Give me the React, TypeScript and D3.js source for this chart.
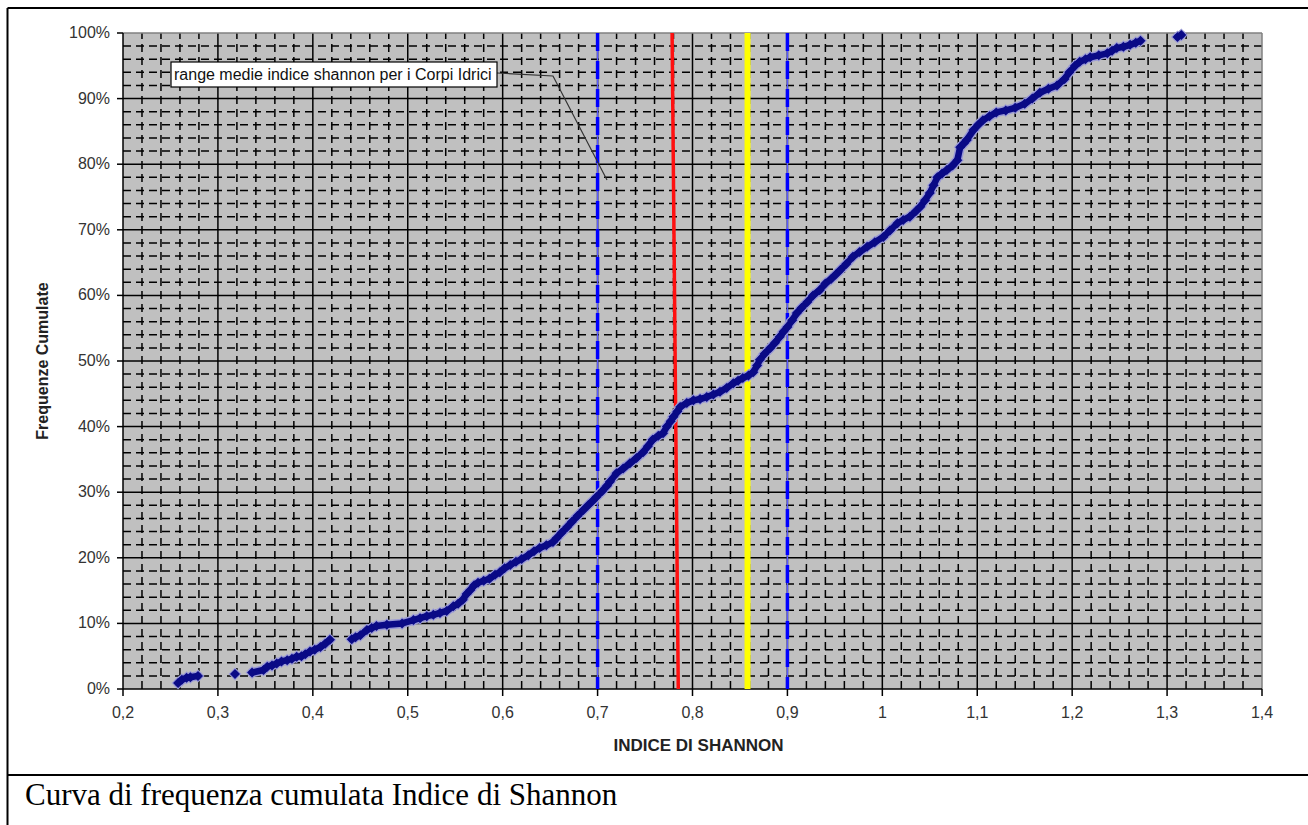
import React from "react";
import * as d3 from "d3";

// Cumulative frequency curve (Shannon index, cumulative %)
const shannonX: number[] = [
  0.258, 0.262, 0.267, 0.271, 0.279, 0.318, 0.336, 0.348, 0.352, 0.357, 0.362, 0.367, 0.373, 0.378, 0.383, 0.388,
  0.392, 0.397, 0.402, 0.408, 0.413, 0.418, 0.441, 0.445, 0.45, 0.457, 0.462, 0.467, 0.478, 0.494, 0.506, 0.513,
  0.52, 0.527, 0.534, 0.541, 0.548, 0.553, 0.558, 0.562, 0.566, 0.57, 0.574, 0.58, 0.586, 0.592, 0.597, 0.602,
  0.608, 0.614, 0.62, 0.627, 0.633, 0.639, 0.646, 0.653, 0.657, 0.662, 0.668, 0.673, 0.679, 0.685, 0.69, 0.695,
  0.699, 0.705, 0.71, 0.713, 0.72, 0.727, 0.734, 0.741, 0.748, 0.753, 0.758, 0.764, 0.769, 0.773, 0.777, 0.78,
  0.784, 0.787, 0.794, 0.801, 0.808, 0.815, 0.822, 0.829, 0.836, 0.843, 0.848, 0.853, 0.859, 0.864, 0.868, 0.871,
  0.876, 0.882, 0.887, 0.892, 0.896, 0.9, 0.905, 0.91, 0.915, 0.921, 0.927, 0.934, 0.94, 0.946, 0.951, 0.956,
  0.962, 0.969, 0.976, 0.984, 0.992, 1.001, 1.008, 1.016, 1.022, 1.029, 1.035, 1.04, 1.045, 1.05, 1.054, 1.058,
  1.063, 1.068, 1.074, 1.079, 1.082, 1.086, 1.089, 1.096, 1.101, 1.106, 1.113, 1.12, 1.13, 1.14, 1.15, 1.158,
  1.166, 1.175, 1.184, 1.192, 1.197, 1.203, 1.208, 1.214, 1.219, 1.228, 1.237, 1.242, 1.247, 1.254, 1.261, 1.267,
  1.272, 1.311, 1.315,
];
const cumulPct: number[] = [
  0.9, 1.4, 1.7, 1.8, 2.0, 2.3, 2.5, 2.9, 3.4, 3.6, 3.9, 4.2, 4.4, 4.6, 4.9, 5.0,
  5.3, 5.7, 6.0, 6.4, 6.9, 7.5, 7.6, 7.9, 8.2, 9.0, 9.3, 9.6, 9.8, 10.0, 10.5, 10.8,
  11.1, 11.3, 11.6, 11.9, 12.6, 13.0, 13.6, 14.5, 15.1, 15.8, 16.2, 16.5, 16.8, 17.4, 17.8, 18.4,
  18.9, 19.4, 19.8, 20.4, 21.0, 21.5, 21.9, 22.4, 23.0, 23.8, 24.7, 25.5, 26.4, 27.3, 28.0, 28.7,
  29.3, 30.2, 31.0, 31.6, 32.9, 33.6, 34.4, 35.2, 36.1, 37.0, 38.0, 38.6, 39.0, 40.0, 40.8, 41.5,
  42.3, 43.0, 43.6, 44.0, 44.2, 44.5, 44.9, 45.3, 45.9, 46.6, 47.0, 47.4, 47.8, 48.3, 49.3, 50.2,
  51.1, 52.0, 52.8, 53.7, 54.5, 55.2, 56.2, 57.3, 58.1, 59.0, 60.0, 60.8, 61.8, 62.5, 63.2, 63.9,
  64.8, 65.9, 66.6, 67.4, 68.1, 68.9, 69.9, 71.0, 71.5, 72.0, 72.8, 73.5, 74.5, 75.6, 76.8, 78.0,
  78.6, 79.1, 79.8, 80.6, 82.6, 83.2, 83.7, 85.2, 86.0, 86.7, 87.3, 87.9, 88.2, 88.6, 89.2, 90.0,
  90.9, 91.5, 92.0, 93.0, 94.0, 95.0, 95.6, 96.0, 96.3, 96.6, 96.9, 97.3, 97.7, 97.9, 98.2, 98.5,
  98.8, 99.4, 99.7,
];

const xTicks: number[] = [0.2, 0.3, 0.4, 0.5, 0.6, 0.7, 0.8, 0.9, 1.0, 1.1, 1.2, 1.3, 1.4];
const yTicks: number[] = [0, 0.1, 0.2, 0.3, 0.4, 0.5, 0.6, 0.7, 0.8, 0.9, 1.0];
const rangeLines: number[] = [0.7, 0.9]; // blue dashed
const redLine: number[][] = [[0.7785, 1.0], [0.785, 0.0]];
const yellowLine: number = 0.858;

const annotationText = "range medie indice shannon per i Corpi Idrici";
const xTitle = "INDICE DI SHANNON";
const yTitle = "Frequenze Cumulate";
const caption = "Curva di frequenza cumulata Indice di Shannon";

const W = 1308;
const H = 825;
const left = 123, right = 1262, top = 33, bottom = 689;

export default function App() {
  const x = d3.scaleLinear().domain([0.2, 1.4]).range([left, right]);
  const y = d3.scaleLinear().domain([0, 1]).range([bottom, top]);

  const minorX = d3.range(0, 61).map((i) => 0.2 + i * 0.02).filter((_, i) => i % 5 !== 0);
  const minorY = d3.range(0, 51).map((i) => i * 0.02).filter((_, i) => i % 5 !== 0);

  const pts = shannonX.map((v, i) => [x(v), y(cumulPct[i] / 100)] as [number, number]);
  // connect consecutive markers that overlap
  const segs: [number, number][][] = [];
  let cur: [number, number][] = [pts[0]];
  for (let i = 1; i < pts.length; i++) {
    const dx = pts[i][0] - pts[i - 1][0];
    const dy = pts[i][1] - pts[i - 1][1];
    if (Math.hypot(dx, dy) < 16) cur.push(pts[i]);
    else {
      segs.push(cur);
      cur = [pts[i]];
    }
  }
  segs.push(cur);
  const line = d3.line<[number, number]>();
  const fmtX = (v: number) => (Math.abs(v - 1) < 1e-9 ? "1" : d3.format(".1f")(v).replace(".", ","));
  const fmtY = (v: number) => `${Math.round(v * 100)}%`;
  const diamond = (cx: number, cy: number, r: number) =>
    `M${cx},${cy - r}L${cx + r},${cy}L${cx},${cy + r}L${cx - r},${cy}Z`;
  const sans = "Arial, 'Liberation Sans', sans-serif";

  return (
    <svg width={W} height={H} style={{ position: "absolute", left: 0, top: 0, background: "#fff" }}>
      {/* outer frame */}
      <line x1={7.5} y1={8} x2={W} y2={8} stroke="#000" strokeWidth={2} />
      <line x1={7.5} y1={8} x2={7.5} y2={H} stroke="#000" strokeWidth={2} />
      <line x1={7.5} y1={775} x2={W} y2={775} stroke="#000" strokeWidth={2} />

      {/* plot area */}
      <rect x={left} y={top} width={right - left} height={bottom - top} fill="#c0c0c0" />
      {minorY.map((v, i) => (
        <line key={"my" + i} x1={left} x2={right} y1={y(v)} y2={y(v)} stroke="#000" strokeWidth={1.5} strokeDasharray="8,5" />
      ))}
      {minorX.map((v, i) => (
        <line key={"mx" + i} x1={x(v)} x2={x(v)} y1={bottom} y2={top} stroke="#000" strokeWidth={1.5} strokeDasharray="8,5" />
      ))}
      {yTicks.slice(1, -1).map((v, i) => (
        <line key={"gy" + i} x1={left} x2={right} y1={y(v)} y2={y(v)} stroke="#000" strokeWidth={1.5} />
      ))}
      {xTicks.slice(1, -1).map((v, i) => (
        <line key={"gx" + i} x1={x(v)} x2={x(v)} y1={top} y2={bottom} stroke="#000" strokeWidth={1.5} />
      ))}
      <line x1={left} x2={right} y1={top} y2={top} stroke="#808080" strokeWidth={1.5} />
      <line x1={right} x2={right} y1={top} y2={bottom} stroke="#808080" strokeWidth={1.5} />

      {/* axes */}
      <line x1={left} x2={left} y1={top} y2={bottom} stroke="#000" strokeWidth={1.5} />
      <line x1={left} x2={right} y1={bottom} y2={bottom} stroke="#000" strokeWidth={1.5} />
      {yTicks.map((v, i) => (
        <g key={"yt" + i}>
          <line x1={left - 6} x2={left} y1={y(v)} y2={y(v)} stroke="#000" strokeWidth={1.5} />
          <text x={left - 13} y={y(v) + 5} textAnchor="end" fontFamily={sans} fontSize={16} fill="#333">
            {fmtY(v)}
          </text>
        </g>
      ))}
      {xTicks.map((v, i) => (
        <g key={"xt" + i}>
          <line x1={x(v)} x2={x(v)} y1={bottom} y2={bottom + 7} stroke="#000" strokeWidth={1.5} />
          <text x={x(v)} y={718} textAnchor="middle" fontFamily={sans} fontSize={16} fill="#333">
            {fmtX(v)}
          </text>
        </g>
      ))}

      {/* reference lines */}
      {rangeLines.map((v, i) => (
        <g key={"rl" + i}>
          <line x1={x(v)} x2={x(v)} y1={top} y2={bottom} stroke="#5c5cff" strokeWidth={1.5} />
          <line x1={x(v)} x2={x(v)} y1={top} y2={bottom} stroke="#0000ff" strokeWidth={3.5} strokeDasharray="18,10" />
        </g>
      ))}
      <line x1={x(redLine[0][0])} y1={y(redLine[0][1])} x2={x(redLine[1][0])} y2={y(redLine[1][1])} stroke="#ff1010" strokeWidth={3.5} />
      <line x1={x(yellowLine)} x2={x(yellowLine)} y1={top} y2={bottom} stroke="#ffff00" strokeWidth={6} />

      {/* data */}
      {segs.map((s, i) =>
        s.length > 1 ? (
          <path key={"h" + i} d={line(s) || ""} fill="none" stroke="#9a9ad6" strokeWidth={9.5} strokeLinecap="round" strokeLinejoin="round" />
        ) : null
      )}
      {pts.map((p, i) => (
        <path key={"hp" + i} d={diamond(p[0], p[1], 6.5)} fill="#9a9ad6" />
      ))}
      {segs.map((s, i) =>
        s.length > 1 ? (
          <path key={"s" + i} d={line(s) || ""} fill="none" stroke="#0a0a86" strokeWidth={6.5} strokeLinecap="round" strokeLinejoin="round" />
        ) : null
      )}
      {pts.map((p, i) => (
        <path key={"p" + i} d={diamond(p[0], p[1], 5)} fill="#0a0a86" />
      ))}

      {/* annotation */}
      <polyline points="497,73 553,76 607,180" fill="none" stroke="#333" strokeWidth={1.2} />
      <rect x={171} y={62} width={326} height={25} fill="#fff" stroke="#000" strokeWidth={1.2} />
      <text x={174} y={80} fontFamily={sans} fontSize={16} fill="#111">
        {annotationText}
      </text>

      {/* titles */}
      <text x={(left + right) / 2 + 6} y={751} textAnchor="middle" fontFamily={sans} fontWeight="bold" fontSize={17} fill="#222">
        {xTitle}
      </text>
      <text transform={`translate(48,${(top + bottom) / 2}) rotate(-90)`} textAnchor="middle" fontFamily={sans} fontWeight="bold" fontSize={16} fill="#222">
        {yTitle}
      </text>

      {/* caption */}
      <text x={25} y={805} fontFamily="'Times New Roman', 'Liberation Serif', serif" fontSize={31} fill="#000">
        {caption}
      </text>
    </svg>
  );
}
